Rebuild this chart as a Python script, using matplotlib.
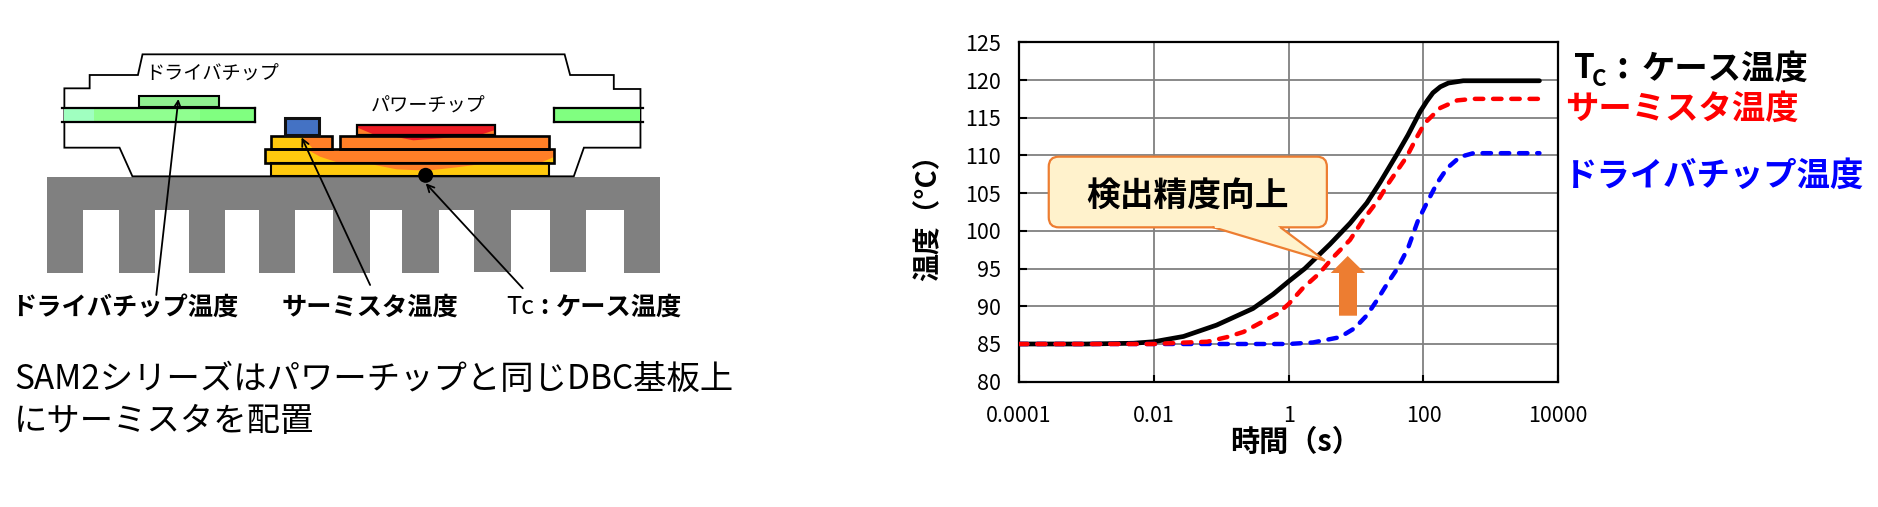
import matplotlib
matplotlib.use("Agg")
import matplotlib.pyplot as plt
from matplotlib.patches import Rectangle, Polygon, Ellipse, FancyBboxPatch

plt.rcParams['font.family'] = ['Noto Sans CJK JP', 'DejaVu Sans']

# ---- chart data ----
log_time_black = [-4, -3, -2.3, -2.0, -1.56, -1.07, -0.53, -0.23, 0, 0.24, 0.61, 0.91, 1.16, 1.355, 1.60, 1.77, 1.95, 2.05, 2.14, 2.25, 2.37, 2.59, 3.72]
temp_black = [85, 85, 85.1, 85.3, 86, 87.5, 89.7, 91.6, 93.3, 95, 98.2, 101.0, 103.7, 106.4, 110.06, 112.7, 115.8, 117.2, 118.3, 119.1, 119.6, 119.9, 119.9]
log_time_red = [-4, -2, -1.51, -1.21, -0.92, -0.67, -0.42, -0.17, 0, 0.21, 0.46, 0.65, 0.91, 1.10, 1.33, 1.48, 1.75, 1.90, 2.02, 2.25, 2.50, 2.74, 3.70]
temp_red = [85, 85, 85.2, 85.3, 85.9, 86.6, 87.8, 89, 90.3, 92.4, 94.4, 96.4, 98.8, 101.4, 104.1, 106.3, 109.8, 112.4, 114.3, 116.3, 117.3, 117.5, 117.5]
log_time_blue = [-4, 0, 0.36, 0.76, 0.98, 1.16, 1.31, 1.47, 1.62, 1.77, 1.92, 2.05, 2.2, 2.35, 2.54, 2.74, 3.72]
temp_blue = [85, 85, 85.2, 85.9, 87.1, 88.8, 90.8, 93.1, 95.1, 97.7, 101.4, 103.7, 106.3, 108.3, 109.8, 110.3, 110.3]
x_ticks = [0.0001, 0.01, 1, 100, 10000]
x_tick_labels = ['0.0001', '0.01', '1', '100', '10000']
y_ticks = [80, 85, 90, 95, 100, 105, 110, 115, 120, 125]
x_label = '時間（s）'
y_label = '温度（°C）'
series_labels = ['ケース温度', 'サーミスタ温度', 'ドライバチップ温度']
callout_text = '検出精度向上'
caption_lines = ['SAM2シリーズはパワーチップと同じDBC基板上', 'にサーミスタを配置']

W, H = 1878, 507
fig = plt.figure(figsize=(W / 100, H / 100), dpi=100, facecolor='white')

# ---- chart ----
L, R, T, B = 1019, 1558.3, 42.3, 381.7
ax = fig.add_axes([L / W, 1 - B / H, (R - L) / W, (B - T) / H])
ax.set_xscale('log')
ax.set_xlim(1e-4, 1e4)
ax.set_ylim(80, 125)
ax.set_xticks(x_ticks)
ax.set_xticklabels(x_tick_labels, fontsize=15.5)
ax.minorticks_off()
ax.set_yticks(y_ticks)
ax.tick_params(axis='y', labelsize=15.5, direction='in', length=6, width=1.5, pad=13)
ax.tick_params(axis='x', direction='in', length=5, width=1.5, pad=17)
ax.grid(True, color='#808080', lw=1.3)
ax.set_axisbelow(True)
for s in ax.spines.values():
    s.set_linewidth(1.6)
    s.set_color('black')
ax.plot([10 ** v for v in log_time_black], temp_black, color='black', lw=3.4, solid_capstyle='round',
        solid_joinstyle='round', zorder=3)
ax.plot([10 ** v for v in log_time_blue], temp_blue, color='#0000FF', lw=3.2, dashes=(1.9, 2.2),
        dash_capstyle='round', zorder=3.1)
ax.plot([10 ** v for v in log_time_red], temp_red, color='#FF0000', lw=3.2, dashes=(1.9, 2.2),
        dash_capstyle='round', zorder=3.2)

# ---- pixel overlay for schematic and annotations ----
ov = fig.add_axes([0, 0, 1, 1], facecolor='none')
ov.set_xlim(0, W)
ov.set_ylim(H, 0)
ov.axis('off')

ov.text(1296, 442, x_label, fontsize=21, fontweight='bold', ha='center', va='center')
ov.text(928, 211, y_label, fontsize=20, fontweight='bold', ha='center', va='center', rotation=90)

def c(x, y):  # chart zoom space
    return (x / 1.6 + 900, y / 3 + 20)

# callout
x0, y0 = c(238, 410)
x1, y1 = c(683, 622)
ov.add_patch(FancyBboxPatch((x0 + 8, y0 + 8), x1 - x0 - 16, y1 - y0 - 16, boxstyle='round,pad=8,rounding_size=10',
                            fc='#FFF2CC', ec='#ED7D31', lw=1.6, zorder=5))
ov.add_patch(Polygon([c(500, 621), c(680, 722), c(608, 621)], closed=False, fc='#FFF2CC', ec='#ED7D31', lw=1.6, zorder=5))
ov.add_patch(Polygon([c(503, 617), c(605, 617), c(606, 624), c(504, 624)], fc='#FFF2CC', ec='none', zorder=5.1))
ov.text(1188, 196, callout_text, fontsize=24.3, fontweight='bold', ha='center', va='center', zorder=6)
# arrow
ov.add_patch(Polygon([(1339, 315.7), (1357, 315.7), (1357, 273), (1365, 273), (1347.7, 256), (1330.7, 273), (1339, 273)],
                     fc='#ED7D31', ec='none', zorder=6))

# series labels
ov.text(1574, 69, 'T', fontsize=24, fontweight='bold', va='center', ha='left')
ov.text(1592, 79, 'C', fontsize=16, fontweight='bold', va='center', ha='left')
ov.text(1622, 67, ':', fontsize=26, fontweight='bold', va='center', ha='center')
ov.text(1642, 69, series_labels[0], fontsize=24, fontweight='bold', va='center', ha='left')
ov.text(1565, 109, series_labels[1], fontsize=24, fontweight='bold', color='#FF0000', va='center', ha='left')
ov.text(1564, 176, series_labels[2], fontsize=24, fontweight='bold', color='#0000FF', va='center', ha='left')

# ---- schematic ----
def z(x, y):  # schematic zoom space
    return (x / 2.175, y / 3 + 30)

def q(x, y):  # detail zoom space
    return (250 + x / 3, 110 + y / 3)

def rect(fn, x0, y0, x1, y1, **kw):
    a, b = fn(x0, y0)
    d, e = fn(x1, y1)
    return ov.add_patch(Rectangle((a, b), d - a, e - b, **kw))

# heat sink
rect(z, 103, 440, 1435, 540, fc='#808080', ec='none')
fins = [(103, 181, 728), (259, 338, 728), (412, 490, 728), (564, 642, 728), (725, 804, 728), (875, 954, 728),
        (1030, 1111, 725), (1196, 1275, 725), (1357, 1435, 728)]
for a, b, bot in fins:
    rect(z, a, 539, b, bot, fc='#808080', ec='none')

# package outline
outline = [(288, 439), (260, 353), (140, 353), (140, 175), (195, 175), (195, 135), (300, 135), (310, 73), (1228, 73),
           (1240, 135), (1335, 135), (1335, 177), (1393, 177), (1393, 353), (1270, 353), (1248, 439)]
ov.add_patch(Polygon([z(*p) for p in outline], closed=True, fc='white', ec='black', lw=1.3, zorder=1))

# leads
rect(z, 140, 234, 555, 276, fc='#90FF90', ec='none', zorder=2)
rect(z, 140, 234, 205, 276, fc='#A0FFC0', ec='none', zorder=2)
rect(z, 435, 234, 555, 276, fc='#80FF80', ec='none', zorder=2)
rect(z, 1204, 234, 1393, 276, fc='#80FF80', ec='none', zorder=2)
for a, b in [(134, 555), (1204, 1398)]:
    for yy in (234, 276):
        ov.plot(*zip(z(a, yy), z(b, yy)), color='black', lw=1.6, zorder=3)
ov.plot(*zip(z(555, 234), z(555, 276)), color='black', lw=1.6, zorder=3)
ov.plot(*zip(z(1204, 234), z(1204, 276)), color='black', lw=1.6, zorder=3)
rect(z, 303, 198, 477, 231, fc='#90F090', ec='black', lw=1.5, zorder=2)

# lower substrate layer
YEL, ORG, RED = '#FFC90E', '#FF7F27', '#ED1C24'
lower = rect(q, 62, 160, 897, 198, fc=YEL, ec='none', zorder=2)
ov.add_patch(Polygon([q(350, 160), q(710, 160), q(620, 172), q(530, 182), q(440, 178)], fc=ORG, ec='none', zorder=2.1))
rect(q, 62, 160, 897, 198, fc='none', ec='black', lw=1.5, zorder=2.2)

# middle layer
rect(q, 44, 118, 912, 160, fc=ORG, ec='none', zorder=2)
ov.add_patch(Polygon([q(44, 118), q(170, 118), q(210, 140), q(270, 160), q(44, 160)], fc=YEL, ec='none', zorder=2.1))
ov.add_patch(Polygon([q(912, 140), q(912, 160), q(870, 160)], fc=YEL, ec='none', zorder=2.1))
rect(q, 44, 118, 912, 160, fc='none', ec='black', lw=1.9, zorder=2.2)

# thermistor pad
rect(q, 62, 77, 247, 118, fc=YEL, ec='none', zorder=2)
ov.add_patch(Polygon([q(155, 77), q(247, 77), q(247, 118), q(190, 118)], fc=ORG, ec='none', zorder=2.1))
rect(q, 62, 77, 247, 118, fc='none', ec='black', lw=1.9, zorder=2.2)

# power chip pad
rect(q, 270, 77, 897, 118, fc=ORG, ec='none', zorder=2)
ov.add_patch(Polygon([q(425, 78), q(645, 78), q(570, 85), q(490, 91)], fc=RED, ec='none', zorder=2.1))
rect(q, 270, 77, 897, 118, fc='none', ec='black', lw=1.9, zorder=2.2)

# power chip
rect(q, 320, 44, 735, 75, fc=RED, ec='none', zorder=2)
ov.add_patch(Polygon([q(320, 52), q(375, 75), q(320, 75)], fc=ORG, ec='none', zorder=2.1))
ov.add_patch(Polygon([q(735, 60), q(690, 75), q(735, 75)], fc=ORG, ec='none', zorder=2.1))
rect(q, 320, 44, 735, 75, fc='none', ec='black', lw=1.6, zorder=2.2)

# thermistor
rect(q, 106, 25, 207, 75, fc='#4472C4', ec='#111111', lw=2.2, zorder=2.5)

# case point
ov.add_patch(Ellipse(q(527, 196), 15, 15, fc='black', ec='none', zorder=4))

# pointer arrows
for start, end in [((340, 795), (388, 207)), ((805, 765), (656, 322)), ((1137, 775), (926, 460))]:
    ov.annotate('', xy=z(*end), xytext=z(*start), zorder=7,
                arrowprops=dict(arrowstyle='->,head_length=0.5,head_width=0.25', color='black', lw=1.3,
                                shrinkA=0, shrinkB=0))

# schematic text
ov.text(212, 74, 'ドライバチップ', fontsize=13.8, ha='center', va='center', zorder=8)
ov.text(428, 106, 'パワーチップ', fontsize=13.8, ha='center', va='center', zorder=8)
ov.text(125, 307, series_labels[2], fontsize=18.2, fontweight='bold', ha='center', va='center')
ov.text(370, 307, series_labels[1], fontsize=18.2, fontweight='bold', ha='center', va='center')
ov.text(506, 307, 'Tc', fontsize=18.2, ha='left', va='center')
ov.text(544, 307, ':', fontsize=18.2, fontweight='bold', ha='center', va='center')
ov.text(619, 307, series_labels[0], fontsize=18.2, fontweight='bold', ha='center', va='center')

# caption
ov.text(14, 379, caption_lines[0], fontsize=24, ha='left', va='center')
ov.text(14, 421, caption_lines[1], fontsize=24, ha='left', va='center')

fig.savefig('out.png', dpi=100, facecolor='white')
